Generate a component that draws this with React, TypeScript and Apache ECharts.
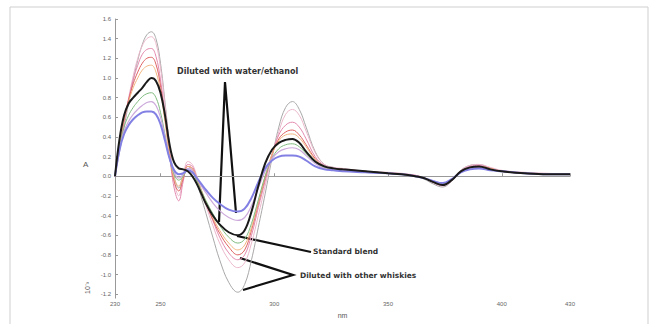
import React, { useEffect, useRef } from "react";
import * as echarts from "echarts";

const NM = [230,232,234,236,238,240,242,244,246,248,250,252,254,256,258,260,262,264,266,268,270,273,276,280,284,287,290,293,296,299,302,305,308,311,314,318,322,326,330,340,350,356,362,366,370,374,378,382,386,390,395,400,410,420,430];

const grayVals = [0.00,0.25,0.50,0.75,0.98,1.18,1.34,1.44,1.47,1.40,1.15,0.75,0.32,0.00,-0.12,0.02,0.10,0.06,-0.06,-0.22,-0.38,-0.62,-0.85,-1.08,-1.18,-1.10,-0.85,-0.52,-0.18,0.18,0.50,0.70,0.76,0.68,0.50,0.25,0.12,0.09,0.07,0.05,0.03,0.02,0.00,-0.03,-0.08,-0.11,-0.05,0.06,0.11,0.12,0.08,0.05,0.03,0.02,0.02];
const lightPinkVals = [0.00,0.28,0.55,0.80,1.02,1.20,1.33,1.40,1.42,1.35,1.10,0.72,0.30,-0.05,-0.20,0.00,0.15,0.12,0.00,-0.15,-0.30,-0.50,-0.68,-0.85,-0.93,-0.88,-0.68,-0.40,-0.10,0.20,0.45,0.63,0.68,0.62,0.46,0.24,0.12,0.09,0.08,0.05,0.04,0.03,0.01,-0.02,-0.07,-0.10,-0.05,0.06,0.11,0.12,0.09,0.06,0.04,0.03,0.02];
const pinkVals = [0.00,0.30,0.55,0.78,0.98,1.13,1.24,1.29,1.30,1.22,0.98,0.62,0.22,-0.12,-0.25,-0.05,0.12,0.10,-0.02,-0.15,-0.28,-0.45,-0.62,-0.78,-0.85,-0.80,-0.60,-0.32,-0.05,0.22,0.42,0.52,0.55,0.50,0.38,0.20,0.11,0.08,0.07,0.05,0.03,0.02,0.01,-0.02,-0.06,-0.09,-0.04,0.05,0.10,0.11,0.08,0.05,0.03,0.02,0.02];
const redVals = [0.00,0.32,0.58,0.78,0.94,1.06,1.15,1.20,1.21,1.14,0.92,0.58,0.22,-0.05,-0.15,-0.02,0.10,0.08,-0.03,-0.16,-0.28,-0.44,-0.58,-0.72,-0.80,-0.75,-0.55,-0.28,-0.02,0.22,0.38,0.45,0.47,0.42,0.32,0.18,0.10,0.08,0.07,0.05,0.03,0.02,0.00,-0.02,-0.06,-0.09,-0.04,0.05,0.09,0.10,0.08,0.05,0.03,0.02,0.02];
const orangeVals = [0.00,0.33,0.58,0.76,0.90,1.00,1.08,1.12,1.13,1.06,0.86,0.55,0.22,-0.02,-0.10,0.00,0.10,0.08,-0.02,-0.14,-0.26,-0.42,-0.55,-0.68,-0.75,-0.70,-0.52,-0.26,0.00,0.22,0.36,0.42,0.43,0.39,0.30,0.17,0.10,0.08,0.07,0.05,0.03,0.02,0.00,-0.02,-0.06,-0.08,-0.04,0.05,0.09,0.10,0.08,0.05,0.03,0.02,0.02];
const greenVals = [0.00,0.30,0.50,0.62,0.70,0.76,0.81,0.84,0.85,0.80,0.65,0.42,0.18,0.02,-0.04,0.00,0.06,0.04,-0.05,-0.15,-0.25,-0.38,-0.50,-0.62,-0.68,-0.64,-0.48,-0.24,0.00,0.18,0.28,0.32,0.33,0.30,0.23,0.14,0.09,0.07,0.06,0.05,0.03,0.02,0.00,-0.02,-0.06,-0.08,-0.04,0.04,0.08,0.09,0.07,0.05,0.03,0.02,0.02];
const lightPurpleVals = [0.00,0.28,0.46,0.56,0.63,0.68,0.72,0.75,0.76,0.72,0.60,0.40,0.18,0.04,-0.02,0.02,0.08,0.06,-0.02,-0.10,-0.17,-0.27,-0.35,-0.42,-0.45,-0.42,-0.30,-0.12,0.05,0.18,0.25,0.28,0.29,0.27,0.21,0.13,0.08,0.07,0.06,0.04,0.03,0.02,0.00,-0.02,-0.05,-0.07,-0.03,0.04,0.08,0.09,0.07,0.05,0.03,0.02,0.02];
const blueVals = [0.00,0.27,0.43,0.52,0.58,0.62,0.65,0.66,0.66,0.63,0.53,0.36,0.18,0.06,0.02,0.03,0.06,0.04,-0.02,-0.08,-0.14,-0.22,-0.28,-0.34,-0.36,-0.33,-0.22,-0.06,0.08,0.16,0.20,0.21,0.21,0.20,0.16,0.10,0.07,0.06,0.05,0.04,0.03,0.02,0.00,-0.02,-0.05,-0.07,-0.03,0.04,0.07,0.08,0.06,0.05,0.03,0.02,0.02];
const standardVals = [0.00,0.38,0.62,0.74,0.80,0.85,0.90,0.96,1.00,0.97,0.85,0.62,0.32,0.14,0.08,0.07,0.05,0.00,-0.08,-0.18,-0.28,-0.40,-0.49,-0.57,-0.60,-0.55,-0.36,-0.10,0.13,0.27,0.34,0.37,0.38,0.34,0.25,0.15,0.10,0.08,0.07,0.05,0.03,0.02,0.00,-0.02,-0.06,-0.09,-0.04,0.05,0.09,0.10,0.07,0.05,0.03,0.02,0.02];

const X_TICKS = [230, 250, 300, 350, 400, 430];
const Y_TICKS = [-1.2,-1.0,-0.8,-0.6,-0.4,-0.2,0.0,0.2,0.4,0.6,0.8,1.0,1.2,1.4,1.6];

const SERIES = [
  { name: "gray", vals: grayVals, color: "#a8a8a8", width: 1 },
  { name: "lightpink", vals: lightPinkVals, color: "#ebb8cc", width: 1 },
  { name: "pink", vals: pinkVals, color: "#e389ae", width: 1 },
  { name: "red", vals: redVals, color: "#de6262", width: 1 },
  { name: "orange", vals: orangeVals, color: "#f2b680", width: 1 },
  { name: "green", vals: greenVals, color: "#80bb80", width: 1 },
  { name: "lightpurple", vals: lightPurpleVals, color: "#cdaadc", width: 1.2 },
  { name: "blue", vals: blueVals, color: "#8380e4", width: 2 },
  { name: "Standard blend", vals: standardVals, color: "#1a1a1a", width: 2 },
];

const FONT = "Liberation Sans, Arial, sans-serif";
const ANNO_FONT = "DejaVu Sans, Verdana, sans-serif";

export default function App() {
  const ref = useRef<HTMLDivElement>(null);
  useEffect(() => {
    if (!ref.current) return;
    const chart = echarts.init(ref.current, null, { renderer: "svg" });
    const option: any = {
      animation: false,
      grid: { left: 115, right: 88, top: 19, bottom: 21 },
      xAxis: {
        type: "value",
        min: 230,
        max: 430,
        name: "nm",
        nameLocation: "middle",
        nameGap: 12,
        nameTextStyle: { fontSize: 7, color: "#555", fontFamily: FONT },
        axisLine: { lineStyle: { color: "#999" } },
        axisTick: { inside: true, length: 3, lineStyle: { color: "#999" }, customValues: X_TICKS },
        axisLabel: { fontSize: 6, color: "#666", margin: 3, fontFamily: FONT, customValues: X_TICKS },
        splitLine: { show: false },
      },
      yAxis: {
        type: "value",
        min: -1.24,
        max: 1.6,
        axisLine: { show: true, lineStyle: { color: "#999" } },
        axisTick: { show: true, inside: true, length: 3, lineStyle: { color: "#999" }, customValues: Y_TICKS },
        axisLabel: {
          fontSize: 6,
          color: "#666",
          margin: 4,
          fontFamily: FONT,
          customValues: Y_TICKS,
          formatter: (v: number) => v.toFixed(1),
        },
        splitLine: { show: false },
      },
      series: SERIES.map((s) => ({
        type: "line",
        name: s.name,
        data: NM.map((x, i) => [x, s.vals[i]]),
        smooth: 0.4,
        showSymbol: false,
        lineStyle: { color: s.color, width: s.width },
      })),
      graphic: [
        { type: "rect", shape: { x: 10, y: 7, width: 638, height: 330 }, style: { fill: "none", stroke: "#cfcfcf", lineWidth: 1 } },
        { type: "text", x: 83, y: 160, style: { text: "A", fontSize: 8, fill: "#555", fontFamily: FONT } },
        { type: "text", x: 84, y: 294, rotation: Math.PI / 2, style: { text: "10⁻³", fontSize: 7, fill: "#555", fontFamily: FONT } },
        { type: "text", x: 177, y: 67, style: { text: "Diluted with water/ethanol", fontSize: 8, fontWeight: "bold", fill: "#333", fontFamily: ANNO_FONT } },
        { type: "polyline", shape: { points: [[219, 222], [225, 82], [236, 213]] }, style: { stroke: "#111", lineWidth: 2.2, fill: "none" } },
        { type: "line", shape: { x1: 237, y1: 236, x2: 311, y2: 252 }, style: { stroke: "#111", lineWidth: 2.2 } },
        { type: "text", x: 313, y: 247, style: { text: "Standard blend", fontSize: 7.5, fontWeight: "bold", fill: "#333", fontFamily: ANNO_FONT } },
        { type: "polyline", shape: { points: [[240, 258], [293, 275], [243, 290]] }, style: { stroke: "#111", lineWidth: 2.2, fill: "none" } },
        { type: "text", x: 300, y: 271, style: { text: "Diluted with other whiskies", fontSize: 7.5, fontWeight: "bold", fill: "#333", fontFamily: ANNO_FONT } },
      ],
    };
    chart.setOption(option);
    return () => chart.dispose();
  }, []);
  return <div ref={ref} style={{ position: "fixed", left: 0, top: 0, width: 658, height: 324, background: "#fff" }} />;
}
